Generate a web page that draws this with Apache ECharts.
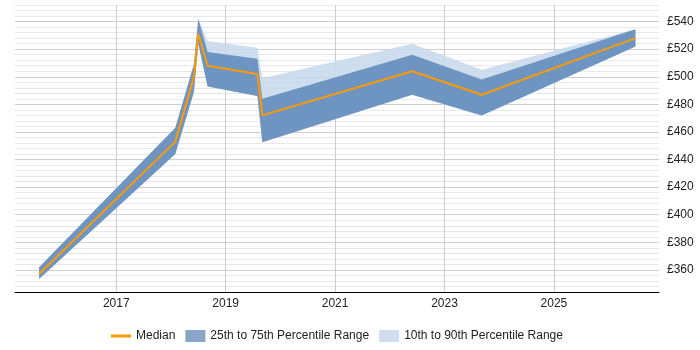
<!doctype html>
<html>
<head>
    <meta charset="utf-8">
    <title>Percentile range chart</title>
    <script src="https://cdn.jsdelivr.net/npm/echarts@6/dist/echarts.min.js"></script>
    <style>
        body{
            margin:0;
            padding:0;
            background:#fff;
        }
        #chart{
            width:700px;
            height:350px;
        }
    </style>
</head>
<body>
<div id="chart"></div>
<script>
    // decimal years of each data point
    var years = [2015.59, 2018.08, 2018.42, 2018.50, 2018.67, 2019.58, 2019.67, 2022.41, 2023.68, 2026.49];
    var median = [357, 453, 500, 531, 508, 502, 472, 504, 487, 528];
    var p10 = [353.5, 444, 489, 524, 493, 486, 452.5, 487, 472, 522];
    var p25 = [353.5, 444, 489, 524, 493, 486, 452.5, 487, 472, 522];
    var p75 = [362, 463, 509, 542, 518, 513, 484, 516, 498, 534.5];
    var p90 = [362, 463, 509, 542, 526, 521, 499, 524, 505, 534.5];
    var yearLabels = [2017, 2019, 2021, 2023, 2025];

    function bandData(lo, hi){
        var out = [];
        for (var i = 0; i < years.length; i++) {
            out.push([years[i], lo[i], hi[i]]);
        }
        return out;
    }

    // whole band drawn as one polygon through the axes' scales
    function bandRenderer(lo, hi, fill){
        return function (params, api) {
            if (params.dataIndex !== 0) return null;
            var pts = [];
            for (var i = 0; i < years.length; i++) {
                pts.push(api.coord([years[i], hi[i]]));
            }
            for (var j = years.length - 1; j >= 0; j--) {
                pts.push(api.coord([years[j], lo[j]]));
            }
            return {
                type: 'polygon',
                shape: {points: pts},
                style: {fill: fill}
            };
        };
    }

    var medianData = [];
    for (var k = 0; k < years.length; k++) {
        medianData.push([years[k], median[k]]);
    }

    var font = 'Liberation Sans, Arial, sans-serif';

    var myChart = echarts.init(document.getElementById('chart'));
    var option = {
        animation: false,
        grid: {
            left: 15,
            right: 41,
            top: 5,
            bottom: 58
        },
        legend: {
            bottom: 3,
            left: 106,
            itemWidth: 20,
            itemHeight: 12,
            itemGap: 10,
            textStyle: {
                fontFamily: font,
                fontSize: 12,
                color: '#222'
            },
            data: [
                {name: 'Median', icon: 'path://M0,0h0.01v0.01h-0.01zM0,4.6h20v2.8h-20zM0,11.99h0.01v0.01h-0.01z', itemStyle: {color: '#ff9900'}},
                {name: '25th to 75th Percentile Range', icon: 'rect', itemStyle: {color: '#88a6c8'}},
                {name: '10th to 90th Percentile Range', icon: 'rect', itemStyle: {color: '#cfdeee'}}
            ]
        },
        xAxis: {
            type: 'value',
            min: 2015.15,
            max: 2026.92,
            axisLine: {
                show: true,
                onZero: false,
                lineStyle: {color: '#000', width: 1}
            },
            axisTick: {
                show: false,
                customValues: yearLabels
            },
            axisLabel: {
                customValues: yearLabels,
                color: '#222',
                fontFamily: font,
                fontSize: 12,
                margin: 6,
                formatter: function (v) {
                    return String(v);
                }
            },
            splitLine: {
                show: true,
                lineStyle: {color: '#cccccc'}
            }
        },
        yAxis: {
            type: 'value',
            position: 'right',
            min: 344,
            max: 552,
            interval: 4,
            axisLine: {show: false},
            axisTick: {show: false},
            axisLabel: {
                color: '#222',
                fontFamily: font,
                fontSize: 12,
                margin: 8,
                formatter: function (v) {
                    return v % 20 === 0 ? '£' + v : '';
                }
            },
            splitLine: {
                show: true,
                lineStyle: {
                    // every 5th line (multiples of 20) is darker
                    color: ['#e8e8e8', '#e8e8e8', '#e8e8e8', '#e8e8e8', '#cfcfcf']
                }
            }
        },
        series: [
            {
                name: '10th to 90th Percentile Range',
                type: 'custom',
                data: bandData(p10, p90),
                encode: {x: 0, y: [1, 2]},
                renderItem: bandRenderer(p10, p90, 'rgba(199,216,235,0.85)'),
                itemStyle: {color: '#cfdeee'},
                silent: true
            },
            {
                name: '25th to 75th Percentile Range',
                type: 'custom',
                data: bandData(p25, p75),
                encode: {x: 0, y: [1, 2]},
                renderItem: bandRenderer(p25, p75, 'rgba(100,142,188,0.9)'),
                itemStyle: {color: '#88a6c8'},
                silent: true
            },
            {
                name: 'Median',
                type: 'line',
                data: medianData,
                symbol: 'none',
                itemStyle: {color: '#ff9900'},
                lineStyle: {color: '#ff9900', width: 2}
            }
        ]
    };
    myChart.setOption(option, true);
</script>
</body>
</html>
